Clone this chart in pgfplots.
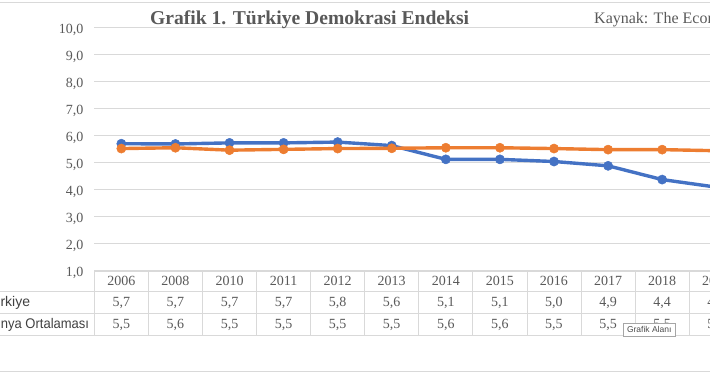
\documentclass[border=0pt]{standalone}
\usepackage{pgfplots}
\pgfplotsset{compat=1.18}
\usepackage{fontspec}
\setmainfont{Liberation Serif}
\newfontfamily\sansf{Liberation Sans}
\definecolor{tblue}{HTML}{4472C4}
\definecolor{torange}{HTML}{ED7D31}
\definecolor{gridc}{HTML}{D9D9D9}
\definecolor{txt}{HTML}{595959}
\begin{document}
\begin{tikzpicture}
\begin{scope}
\clip (0pt,0pt) rectangle (710pt,375pt);
\begin{scope}[x=1pt,y=1pt]
% chart border lines
\draw[gridc, line width=0.8pt] (0,372.5) -- (710,372.5);
\draw[gridc, line width=0.8pt] (0,3.3) -- (710,3.3);
\end{scope}
\begin{axis}[
  at={(94.3pt,104.5pt)}, anchor=south west,
  scale only axis, width=649pt, height=242.8pt,
  xmin=-0.5, xmax=11.5, ymin=1, ymax=10,
  ytick={1,2,...,10},
  xtick=\empty,
  axis line style={draw=none},
  major tick length=0pt,
  ymajorgrids, grid style={gridc, line width=0.8pt},
  yticklabel style={font=\fontsize{14}{16}\selectfont, text=txt, text depth=0pt, xshift=-7.5pt, yshift=-1pt},
  /pgf/number format/.cd, fixed, fixed zerofill, precision=1, use comma, assume math mode=true,
  /pgfplots/.cd,
  clip=false,
]
\addplot[tblue, line width=3.4pt, mark=*, mark size=4.6pt, mark options={fill=tblue, draw=tblue, solid, line width=0.5pt}]
 coordinates {(0,5.70) (1,5.69) (2,5.73) (3,5.73) (4,5.76) (5,5.63) (6,5.12) (7,5.12) (8,5.04) (9,4.88) (10,4.37) (11,4.09)};
\addplot[torange, line width=3.4pt, mark=*, mark size=4.6pt, mark options={fill=torange, draw=torange, solid, line width=0.5pt}]
 coordinates {(0,5.52) (1,5.55) (2,5.46) (3,5.49) (4,5.52) (5,5.53) (6,5.55) (7,5.55) (8,5.52) (9,5.48) (10,5.48) (11,5.44)};
\end{axis}
\begin{scope}[x=1pt,y=1pt]
% data table
\draw[gridc, line width=0.8pt] (94.3,104) -- (760,104);
\draw[gridc, line width=0.8pt] (0,83.3) -- (760,83.3);
\draw[gridc, line width=0.8pt] (0,61.7) -- (760,61.7);
\draw[gridc, line width=0.8pt] (0,40) -- (760,40);
\foreach \k in {0,...,12} {
  \draw[gridc, line width=0.8pt] ({94.3+54.08*\k},104) -- ({94.3+54.08*\k},40);
}
\foreach \y [count=\i from 0] in {2006,2008,2010,2011,2012,2013,2014,2015,2016,2017,2018,2019} {
  \node[anchor=base, inner sep=0pt, text=txt, font=\fontsize{14}{16}\selectfont] at ({94.3+54.08*(\i+0.5)},89) {\y};
}
\foreach \v [count=\i from 0] in {5{,}7,5{,}7,5{,}7,5{,}7,5{,}8,5{,}6,5{,}1,5{,}1,5{,}0,4{,}9,4{,}4,4{,}1} {
  \node[anchor=base, inner sep=0pt, text=txt, font=\fontsize{14}{16}\selectfont] at ({94.3+54.08*(\i+0.5)},68.7) {\v};
}
\foreach \v [count=\i from 0] in {5{,}5,5{,}6,5{,}5,5{,}5,5{,}5,5{,}5,5{,}6,5{,}6,5{,}5,5{,}5,5{,}5,5{,}4} {
  \node[anchor=base, inner sep=0pt, text=txt, font=\fontsize{14}{16}\selectfont] at ({94.3+54.08*(\i+0.5)},46) {\v};
}
\node[anchor=base west, inner sep=0pt, text=black!75, font=\sansf\fontsize{14}{16}\selectfont] at (-16,68.7) {Türkiye};
\node[anchor=base west, inner sep=0pt, text=black!75, font=\sansf\fontsize{14}{16}\selectfont] at (-16,46) {\scalebox{0.93}[1]{Dünya Ortalaması}};
% tooltip
\draw[fill=white, draw=black!35, line width=0.6pt] (623.3,39) rectangle (675,51.7);
\node[anchor=center, inner sep=0pt, text=black!70, font=\sansf\fontsize{8.5}{10}\selectfont] at (649.2,45.3) {Grafik Alanı};
% titles
\node[anchor=base, inner sep=0pt, text=txt, font=\bfseries\fontsize{19.6}{22}\selectfont] at (309.6,350) {Grafik 1. Türkiye Demokrasi Endeksi};
\node[anchor=base west, inner sep=0pt, text=txt, font=\fontsize{16}{18}\selectfont] at (594,351.7) {Kaynak: The Economist};
\end{scope}
\end{scope}
\pgfresetboundingbox
\path[use as bounding box] (0pt,0pt) rectangle (710pt,375pt);
\end{tikzpicture}
\end{document}
